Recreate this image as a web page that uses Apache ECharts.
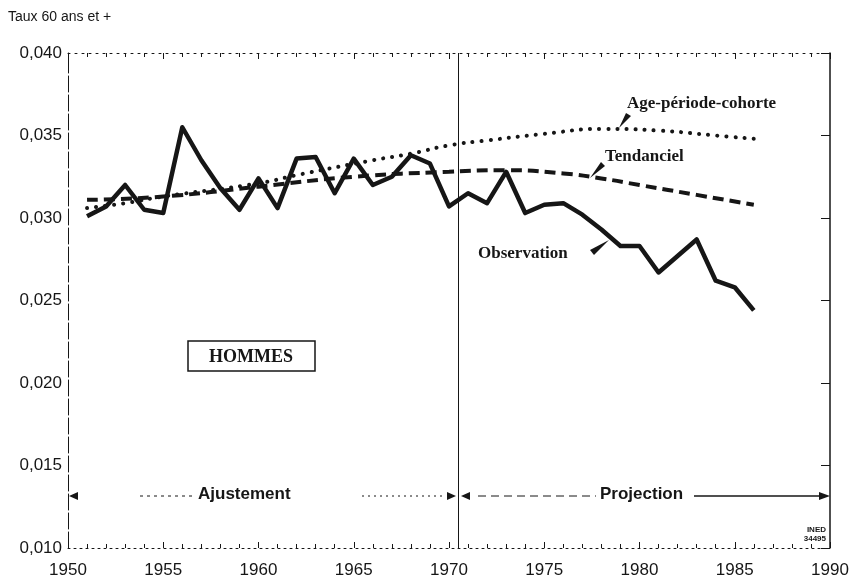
<!DOCTYPE html>
<html>
<head>
<meta charset="utf-8">
<title>Taux 60 ans et +</title>
<script src="https://cdn.jsdelivr.net/npm/echarts@6/dist/echarts.min.js"></script>
<style>
  html, body { margin: 0; padding: 0; background: #fff; }
  #chart { width: 856px; height: 579px; }
</style>
</head>
<body>
<div id="chart"></div>
<script>
// observation 1951-1986
var obsYears = [1951, 1952, 1953, 1954, 1955, 1956, 1957, 1958, 1959, 1960,
  1961, 1962, 1963, 1964, 1965, 1966, 1967, 1968, 1969, 1970,
  1971, 1972, 1973, 1974, 1975, 1976, 1977, 1978, 1979, 1980,
  1981, 1982, 1983, 1984, 1985, 1986]
var obsValues = [0.0301, 0.0307, 0.0320, 0.0305, 0.0303, 0.0355, 0.0335, 0.0318, 0.0305, 0.0324,
  0.0306, 0.0336, 0.0337, 0.0315, 0.0336, 0.0320, 0.0325, 0.0338, 0.0333, 0.0307,
  0.0315, 0.0309, 0.0328, 0.0303, 0.0308, 0.0309, 0.0302, 0.0293, 0.0283, 0.0283,
  0.0267, 0.0277, 0.0287, 0.0262, 0.0258, 0.0244]

// modele tendanciel
var tendYears = [1951, 1955, 1960, 1965, 1970, 1973, 1976, 1978, 1980, 1983, 1986]
var tendValues = [0.0311, 0.0313, 0.0319, 0.0325, 0.0328, 0.0329, 0.0327, 0.0324, 0.0320, 0.0314, 0.0308]

// modele age-periode-cohorte
var apcYears = [1951, 1953, 1955, 1960, 1962, 1966, 1968, 1970, 1972, 1975, 1978, 1981, 1984, 1986]
var apcValues = [0.0306, 0.0309, 0.0313, 0.0321, 0.0326, 0.0335, 0.0339, 0.0344, 0.0347, 0.0351, 0.0354, 0.0353, 0.0350, 0.0348]

var projectionStart = 1970.5

function pairs(xs, ys) {
  return xs.map(function(x, i) { return [x, ys[i]] })
}

var ink = '#161616'
var sans = 'Liberation Sans, Arial, sans-serif'
var serif = 'Liberation Serif, Times New Roman, serif'

var chart = echarts.init(document.getElementById('chart'), null, { renderer: 'canvas' })

chart.setOption({
  backgroundColor: '#fff',
  animation: false,
  grid: { left: 68, right: 26, top: 53, bottom: 30 },
  xAxis: [{
    type: 'value',
    min: 1950,
    max: 1990,
    interval: 5,
    position: 'bottom',
    axisLine: { lineStyle: { color: ink, width: 1, type: [2, 4] } },
    axisTick: { show: true, inside: true, length: 6, lineStyle: { color: ink } },
    minorTick: { show: true, splitNumber: 5, length: 4, lineStyle: { color: ink } },
    splitLine: { show: false },
    axisLabel: {
      color: ink, fontSize: 17, fontFamily: sans, margin: 14,
      formatter: function(v) { return String(v) }
    }
  }, {
    type: 'value',
    min: 1950,
    max: 1990,
    interval: 5,
    position: 'top',
    axisLine: { lineStyle: { color: ink, width: 1, type: [2, 5] } },
    axisTick: { show: true, inside: true, length: 6, lineStyle: { color: ink } },
    minorTick: { show: true, splitNumber: 5, length: 4, lineStyle: { color: ink } },
    splitLine: { show: false },
    axisLabel: { show: false }
  }],
  yAxis: [{
    type: 'value',
    min: 0.010,
    max: 0.040,
    interval: 0.005,
    position: 'left',
    axisLine: { show: true, lineStyle: { color: ink, width: 1, type: [16, 3] } },
    axisTick: { show: false },
    splitLine: { show: false },
    axisLabel: {
      color: ink, fontSize: 17, fontFamily: sans, margin: 6,
      formatter: function(v) { return v.toFixed(3).replace('.', ',') }
    }
  }, {
    type: 'value',
    min: 0.010,
    max: 0.040,
    interval: 0.005,
    position: 'right',
    axisLine: { show: true, lineStyle: { color: ink, width: 1.5 } },
    axisTick: { show: true, inside: true, length: 9, lineStyle: { color: ink } },
    splitLine: { show: false },
    axisLabel: { show: false }
  }],
  series: [{
    name: 'Observation',
    type: 'line',
    data: pairs(obsYears, obsValues),
    showSymbol: false,
    symbol: 'none',
    lineStyle: { color: ink, width: 4.5, join: 'round' },
    z: 5,
    markLine: {
      silent: true,
      symbol: ['none', 'none'],
      label: { show: false },
      lineStyle: { color: ink, width: 1, type: 'solid' },
      data: [{ xAxis: projectionStart }]
    }
  }, {
    name: 'Tendanciel',
    type: 'line',
    data: pairs(tendYears, tendValues),
    smooth: 0.5,
    showSymbol: false,
    symbol: 'none',
    lineStyle: { color: ink, width: 4, type: [11, 6] },
    z: 4
  }, {
    name: 'Age-période-cohorte',
    type: 'line',
    data: pairs(apcYears, apcValues),
    smooth: true,
    showSymbol: false,
    symbol: 'none',
    lineStyle: { color: ink, width: 4, type: [0.1, 9], cap: 'round' },
    z: 3
  }],
  graphic: [
    { type: 'text', left: 8, top: 10, style: { text: 'Taux 60 ans et +', font: '14px ' + sans, fill: ink } },
    // series labels
    { type: 'text', left: 627, top: 95, style: { text: 'Age-période-cohorte', font: 'bold 17px ' + serif, fill: ink } },
    { type: 'polygon', shape: { points: [[619, 128], [626, 113], [631, 116]] }, style: { fill: ink } },
    { type: 'text', left: 605, top: 148, style: { text: 'Tendanciel', font: 'bold 17px ' + serif, fill: ink } },
    { type: 'polygon', shape: { points: [[590, 178], [601, 162], [605, 166]] }, style: { fill: ink } },
    { type: 'text', left: 478, top: 245, style: { text: 'Observation', font: 'bold 17px ' + serif, fill: ink } },
    { type: 'polygon', shape: { points: [[609, 240], [590, 250], [594, 255]] }, style: { fill: ink } },
    // HOMMES box
    { type: 'rect', shape: { x: 188, y: 341, width: 127, height: 30 }, style: { fill: 'none', stroke: ink, lineWidth: 1.5 } },
    { type: 'text', x: 251, y: 357, style: { text: 'HOMMES', font: 'bold 18px ' + serif, fill: ink, align: 'center', verticalAlign: 'middle' } },
    // Ajustement / Projection
    { type: 'polygon', shape: { points: [[69, 496], [78, 492], [78, 500]] }, style: { fill: ink } },
    { type: 'line', shape: { x1: 140, y1: 496, x2: 192, y2: 496 }, style: { stroke: ink, lineWidth: 1, lineDash: [3, 4] } },
    { type: 'text', left: 198, top: 486, style: { text: 'Ajustement', font: 'bold 17px ' + sans, fill: ink } },
    { type: 'line', shape: { x1: 362, y1: 496, x2: 446, y2: 496 }, style: { stroke: ink, lineWidth: 1, lineDash: [2, 4] } },
    { type: 'polygon', shape: { points: [[456, 496], [447, 492], [447, 500]] }, style: { fill: ink } },
    { type: 'polygon', shape: { points: [[461, 496], [470, 492], [470, 500]] }, style: { fill: ink } },
    { type: 'line', shape: { x1: 478, y1: 496, x2: 596, y2: 496 }, style: { stroke: ink, lineWidth: 1, lineDash: [8, 5] } },
    { type: 'text', left: 600, top: 486, style: { text: 'Projection', font: 'bold 17px ' + sans, fill: ink } },
    { type: 'line', shape: { x1: 694, y1: 496, x2: 822, y2: 496 }, style: { stroke: ink, lineWidth: 1.3 } },
    { type: 'polygon', shape: { points: [[830, 496], [819, 492], [819, 500]] }, style: { fill: ink } },
    // source
    { type: 'text', x: 826, y: 525, style: { text: 'INED\n34495', font: 'bold 8px ' + sans, fill: ink, align: 'right', lineHeight: 9 } }
  ]
})
</script>
</body>
</html>
